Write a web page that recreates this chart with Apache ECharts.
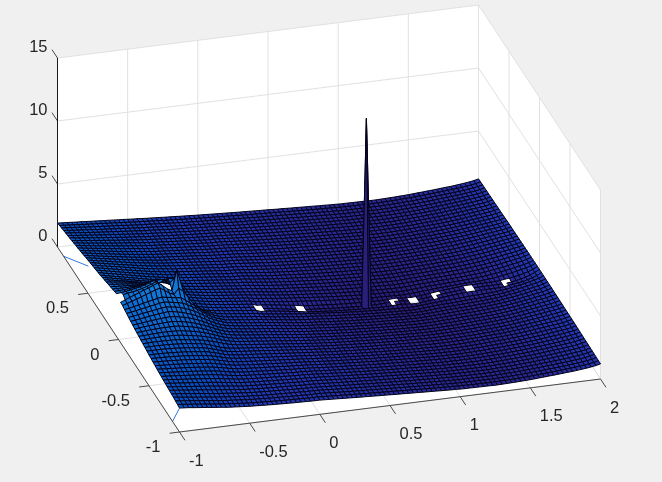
<!DOCTYPE html>
<html><head><meta charset="utf-8">
<style>html,body{margin:0;padding:0;background:#f0f0f0}#c{width:662px;height:482px}</style>
<script src="https://cdn.jsdelivr.net/npm/echarts@6/dist/echarts.min.js"></script>
</head><body><div id="c"></div>
<script>
const xTicks=[-1,-0.5,0,0.5,1,1.5,2];
const yTicks=[-1,-0.5,0,0.5];
const zTicks=[0,5,10,15];
const xTickLabels=['-1','-0.5','0','0.5','1','1.5','2'];
const yTickLabels=['-1','-0.5','0','0.5'];
const zTickLabels=['0','5','10','15'];
// Heights, in hundredths. Mesh step is 1/30.
// zLeft: one row per y from 1 to -1, x from -1 to -1/30.
const zLeft=[
[190,187,185,182,179,177,174,171,169,166,163,161,158,155,153,150,147,145,142,139,137,134,132,129,127,125,122,120,118,115],
[195,192,189,186,183,180,177,174,172,169,166,163,160,157,154,151,148,145,143,140,137,135,132,129,127,125,122,120,118,116],
[200,196,193,190,187,183,180,177,174,171,168,165,162,159,155,152,149,146,144,141,138,135,133,130,127,125,122,120,118,116],
[204,200,197,193,190,186,183,179,176,173,170,167,164,160,157,153,150,147,145,142,139,136,134,131,128,126,123,121,119,116],
[209,205,201,197,193,190,186,182,179,175,172,169,165,162,158,155,151,148,146,143,140,137,134,132,129,126,124,121,119,117],
[213,209,205,201,197,193,189,185,181,178,174,171,167,163,159,156,152,149,147,144,141,138,135,133,130,127,124,122,119,117],
[218,214,209,205,200,196,192,188,184,180,176,172,168,164,161,157,153,150,148,145,142,139,136,133,130,128,125,122,120,118],
[222,218,213,208,204,200,195,191,187,182,178,174,170,166,162,158,155,152,149,146,143,140,137,134,131,128,125,123,120,118],
[227,222,217,212,208,203,198,193,189,184,180,176,172,168,163,159,156,153,150,147,144,141,138,135,132,129,126,123,120,118],
[232,227,221,216,211,206,201,196,191,186,182,178,173,169,165,160,157,154,151,148,145,142,139,136,133,130,127,124,121,118],
[236,231,225,220,215,210,204,199,194,189,184,180,175,171,166,162,158,155,152,149,146,143,139,136,133,130,127,124,121,118],
[241,235,229,224,219,213,207,202,196,191,186,181,177,172,168,163,159,156,153,150,147,144,140,137,134,131,127,124,121,118],
[246,240,234,228,222,216,210,204,199,194,188,183,178,174,169,165,161,157,154,151,148,145,141,138,134,131,128,125,122,119],
[251,245,239,232,226,220,214,208,202,196,190,185,180,175,171,166,162,158,155,152,149,146,142,139,135,132,128,125,122,119],
[257,250,244,237,231,224,218,211,205,199,193,188,182,177,172,167,163,159,156,153,150,146,142,139,135,132,129,125,122,119],
[262,255,248,241,235,228,221,215,208,202,195,190,184,179,174,168,164,160,157,154,151,147,143,140,136,133,129,126,122,119],
[267,260,253,246,239,232,225,218,211,205,198,192,186,180,175,170,166,162,158,155,152,148,144,140,136,133,129,126,122,119],
[272,265,257,250,243,236,229,222,215,208,201,194,188,182,177,172,168,163,159,156,152,148,144,141,137,133,129,126,122,119],
[276,269,261,254,247,239,232,225,218,211,204,197,190,184,179,173,169,164,160,156,153,149,145,141,137,133,130,126,122,119],
[281,273,266,258,251,243,236,228,221,214,206,199,193,187,181,175,170,165,161,157,153,149,145,142,138,134,130,126,122,119],
[286,278,270,262,255,247,240,232,224,217,209,202,195,189,183,177,171,166,162,158,154,150,146,142,138,134,130,126,122,119],
[290,282,274,266,259,251,244,236,228,220,212,205,198,192,185,179,173,168,163,159,155,151,146,142,138,134,130,126,122,119],
[297,289,281,273,266,258,250,242,234,226,218,210,203,195,188,181,175,170,165,160,155,151,147,143,139,135,130,127,123,119],
[303,296,289,282,275,268,260,252,244,235,245,255,245,220,200,184,178,172,166,161,156,152,147,143,139,135,131,127,123,119],
[309,304,299,294,289,283,277,270,265,262,265,280,270,245,215,192,180,173,167,162,157,152,148,143,139,135,131,127,123,119],
[315,311,307,303,299,295,290,285,282,282,288,300,295,262,228,198,182,175,168,163,158,153,148,144,140,135,131,127,123,119],
[321,318,315,313,311,309,307,305,305,308,315,325,320,275,235,202,185,177,170,164,158,153,149,144,140,136,132,128,124,120],
[327,326,325,325,325,326,327,330,335,342,348,350,345,290,240,205,188,179,171,165,159,154,149,145,140,136,132,128,124,120],
[333,334,336,339,343,348,355,365,380,378,380,375,370,300,240,207,190,180,172,165,160,155,150,145,141,137,132,128,124,120],
[339,343,348,354,361,369,379,392,405,380,395,410,400,320,250,210,192,181,173,166,160,155,150,145,141,137,132,128,124,120],
[345,352,358,364,370,380,392,405,420,395,400,400,430,360,280,215,192,181,173,166,160,155,150,145,141,137,132,128,124,120],
[320,334,349,363,378,392,406,421,435,410,380,360,520,400,320,260,205,184,174,166,160,155,150,145,141,137,132,128,124,120],
[318,330,342,355,368,382,395,408,420,395,370,355,400,370,320,270,232,208,188,174,163,155,150,145,141,137,132,128,124,120],
[310,317,325,333,342,350,358,366,372,366,360,352,350,325,298,270,242,215,195,178,165,155,150,145,141,137,132,128,124,120],
[304,310,317,324,331,338,345,352,357,352,345,338,330,312,292,270,245,220,198,180,168,156,151,146,141,137,133,129,125,121],
[297,303,309,315,321,327,332,338,343,338,332,325,312,298,282,262,240,218,198,182,170,157,152,147,142,138,133,129,125,121],
[290,295,301,306,312,317,322,326,330,326,318,310,298,285,270,252,232,212,194,178,167,158,152,147,142,138,134,130,126,122],
[285,289,293,298,302,306,309,312,314,310,303,296,286,274,260,244,226,208,190,176,166,158,153,148,143,139,134,130,126,122],
[279,283,287,290,293,296,298,300,300,297,290,283,274,263,250,236,220,204,188,175,165,158,153,148,143,139,135,131,127,123],
[274,277,280,283,285,286,287,287,287,284,277,271,263,253,241,228,214,199,185,173,164,157,152,148,143,139,135,131,127,123],
[269,271,273,275,276,277,277,276,275,272,265,259,252,243,233,221,208,194,181,170,162,156,152,147,143,139,135,131,127,123],
[264,266,268,269,270,270,269,268,265,261,254,249,242,234,225,214,202,189,177,168,160,155,151,147,143,139,134,130,127,123],
[260,261,262,262,262,261,260,258,255,250,244,239,233,226,217,207,196,184,173,165,158,154,150,146,142,138,134,130,126,122],
[255,256,256,256,255,254,252,249,246,243,238,233,228,220,209,196,182,172,165,160,156,152,148,145,141,137,133,130,126,122],
[250,250,250,250,249,247,245,242,238,235,230,225,220,212,202,191,178,169,163,158,154,151,147,144,140,137,133,129,126,122],
[244,244,243,243,241,239,237,234,231,227,223,218,214,206,197,186,174,166,160,156,152,149,146,143,139,136,132,129,125,122],
[240,239,238,237,235,233,231,228,225,221,217,212,207,200,191,181,171,163,158,154,150,147,144,141,138,134,131,128,125,121],
[236,235,233,232,230,227,225,222,218,215,210,206,201,194,185,177,167,160,155,151,148,145,142,139,136,133,130,127,124,121],
[232,230,228,226,224,221,218,215,212,208,204,200,195,188,180,171,163,157,153,149,146,143,140,137,135,132,129,126,123,120],
[228,226,224,221,218,216,213,210,206,203,198,194,189,182,175,167,159,154,150,147,144,141,138,136,133,130,128,125,122,119],
[224,222,219,216,213,210,207,204,200,197,192,188,183,177,170,162,156,151,147,144,142,139,136,134,131,129,126,124,121,119],
[221,218,215,212,208,205,202,198,195,191,187,183,178,171,165,158,152,148,145,142,140,137,135,132,130,128,125,123,120,118],
[217,214,211,207,204,200,197,193,189,186,181,177,172,166,160,154,149,145,142,140,137,135,133,131,128,126,124,122,120,118],
[214,211,207,203,199,195,192,188,184,180,176,171,166,161,156,151,146,143,140,137,135,133,131,129,127,125,123,121,119,117],
[211,207,203,199,195,191,187,183,179,175,170,166,161,157,152,147,143,140,138,135,133,131,129,127,125,123,122,120,118,116],
[208,204,200,196,191,187,183,179,175,170,165,161,157,153,149,144,141,138,136,133,131,129,127,125,124,122,120,119,117,115],
[205,201,197,192,188,183,179,175,170,165,161,157,153,149,146,142,139,136,133,131,129,127,126,124,122,121,119,118,116,115],
[202,198,193,189,184,179,175,171,166,161,157,153,150,146,143,139,136,134,131,129,127,125,124,122,121,119,118,117,115,114],
[198,194,190,185,181,176,172,167,163,158,154,150,147,144,140,137,134,132,130,128,126,124,123,121,120,118,117,116,114,113],
[194,190,186,182,178,173,169,164,160,155,151,148,145,142,138,135,133,131,129,127,125,123,122,120,119,118,116,115,114,113],
[190,187,184,179,175,171,167,162,158,154,149,146,143,140,137,134,132,130,128,126,124,123,121,120,118,117,116,115,114,113]];
// zRight: one row per |y| from 1 to 0, x from 0 to 2 (the picture reads the same on both sides of y=0 here).
const zRight=[
[113,111,109,107,105,103,101,99,97,95,94,92,90,88,87,85,83,81,80,78,76,75,73,71,70,68,66,65,63,62,60,59,59,58,58,57,57,56,56,57,58,59,60,62,63,65,67,70,72,75,77,80,83,86,88,92,96,100,105,111,120],
[113,111,109,107,105,103,101,99,97,95,93,91,90,88,86,84,83,81,79,77,76,74,72,71,69,67,66,64,63,61,59,59,58,58,57,57,56,56,56,57,58,59,60,62,63,65,67,70,72,75,77,80,83,86,89,92,96,100,105,111,121],
[114,112,110,108,106,103,101,99,97,95,93,91,89,87,86,84,82,80,79,77,75,73,71,70,68,66,65,63,62,60,58,58,57,57,56,56,56,55,55,56,57,59,60,62,63,65,67,70,72,75,78,80,83,86,89,93,96,101,106,112,122],
[114,112,110,108,106,103,101,99,97,95,93,91,89,87,85,83,81,80,78,76,74,72,71,69,67,66,64,62,61,59,58,57,57,56,56,55,55,55,55,56,57,58,60,61,63,65,67,70,72,75,78,81,84,87,90,93,97,101,106,113,122],
[115,113,111,108,106,104,101,99,97,95,93,91,88,86,84,82,81,79,77,75,73,71,70,68,67,65,63,61,60,59,57,56,56,55,55,55,54,54,55,56,57,58,59,61,63,65,67,69,72,75,78,81,84,87,90,94,98,102,107,114,123],
[115,113,111,109,106,104,101,99,97,95,92,90,88,86,84,82,80,78,76,75,73,71,69,67,66,64,62,61,59,58,56,56,55,55,54,54,54,54,54,55,57,58,59,61,63,65,67,69,72,75,78,81,84,88,91,95,99,103,108,114,123],
[116,114,112,109,107,104,102,99,97,95,92,90,88,85,83,82,80,78,76,74,72,70,68,67,65,63,62,60,58,57,56,55,55,54,54,53,53,53,54,55,56,58,59,61,63,65,67,69,72,75,78,81,85,88,92,95,99,104,109,115,124],
[117,114,112,110,107,104,102,99,97,94,92,90,87,85,83,81,79,77,75,73,71,70,68,66,64,62,61,59,58,56,55,54,54,53,53,53,52,53,53,54,56,57,59,61,63,65,67,69,72,75,78,82,85,89,92,96,100,104,109,116,125],
[118,115,113,110,107,104,102,99,96,94,91,89,87,84,82,80,78,76,74,72,70,69,67,65,63,62,60,58,57,55,54,53,53,52,52,52,52,52,53,54,55,57,59,61,63,65,67,69,72,75,78,82,85,89,93,97,101,105,110,117,125],
[118,115,113,110,107,104,101,98,96,93,91,88,86,84,81,79,77,75,73,71,69,68,66,64,62,61,59,57,56,54,53,52,52,51,51,51,51,52,53,54,55,57,58,60,63,65,67,69,72,75,78,82,85,89,93,97,101,106,111,117,126],
[118,115,113,110,107,103,100,98,95,93,90,88,85,83,81,78,76,74,72,71,69,67,65,63,62,60,58,57,55,54,52,51,51,50,50,50,50,51,52,53,55,56,58,60,62,65,67,69,72,75,78,82,86,90,94,98,102,106,111,118,127],
[118,115,113,110,106,103,100,97,94,92,90,87,85,82,80,78,75,73,72,70,68,66,64,62,61,59,57,56,54,53,51,50,50,49,49,49,50,50,52,53,54,56,58,60,62,64,67,69,72,75,78,82,86,90,94,98,102,107,112,118,127],
[118,115,113,109,106,103,99,96,93,91,88,86,84,81,79,76,74,72,70,68,66,64,63,61,59,58,56,55,53,52,50,49,49,48,48,48,49,50,51,53,54,56,58,60,62,64,67,69,72,75,79,83,86,90,94,99,103,107,112,119,128],
[118,115,112,109,105,102,99,96,93,90,87,85,82,80,77,75,73,71,69,67,65,63,61,60,58,56,55,53,52,51,49,48,48,48,48,48,48,49,51,52,54,56,58,60,62,64,67,69,72,75,79,83,86,91,95,99,103,108,113,119,129],
[118,115,112,108,105,102,98,95,92,89,86,84,81,79,76,74,72,70,68,66,64,62,60,59,57,55,54,52,51,50,48,47,47,47,47,47,48,49,50,52,54,56,58,60,62,64,67,69,72,75,79,83,87,91,95,100,104,108,113,120,130],
[118,115,112,108,105,101,98,94,91,88,85,83,80,78,75,73,71,69,67,65,63,61,59,58,56,54,53,51,50,49,47,47,47,46,46,47,48,49,50,52,53,55,57,59,61,63,66,69,72,75,79,83,87,91,96,100,105,109,114,120,130],
[118,115,111,108,104,100,97,93,90,87,84,82,79,76,74,72,69,67,65,64,62,60,58,56,55,53,52,50,49,48,46,46,45,45,45,46,47,48,49,51,52,54,56,58,60,63,65,68,71,74,78,82,87,91,96,101,105,110,115,121,131],
[118,114,111,107,103,100,96,92,89,86,83,80,78,75,73,70,68,66,64,62,60,58,56,55,53,52,50,49,48,47,45,44,44,44,44,45,46,47,48,50,51,53,55,57,59,62,64,67,70,74,78,82,86,91,96,101,106,110,116,122,131],
[118,114,110,106,102,99,95,91,88,85,82,79,76,74,71,69,67,65,62,60,58,57,55,53,52,50,49,47,46,45,44,43,43,43,43,44,45,46,47,49,50,52,54,56,58,61,63,66,69,73,77,81,86,91,96,101,106,111,116,122,131],
[118,114,110,106,102,98,94,90,87,84,81,78,75,72,70,67,65,63,60,59,57,55,53,51,50,48,47,45,44,43,42,41,41,41,42,43,44,45,46,48,49,51,53,55,57,60,62,65,68,72,76,80,85,90,95,100,106,111,116,122,132],
[118,114,110,105,101,97,93,89,86,83,80,77,74,71,68,66,63,61,59,57,55,53,51,49,48,46,45,43,42,41,40,39,39,39,40,41,42,43,45,46,48,50,52,54,56,58,61,64,67,71,75,79,84,89,95,100,105,111,116,123,132],
[118,114,109,105,100,96,92,88,85,81,78,75,72,69,67,64,62,59,57,55,53,51,49,47,46,44,43,41,40,38,37,37,37,38,39,40,41,42,44,45,47,49,51,52,54,57,59,62,66,70,74,78,83,88,94,99,105,110,116,123,132],
[118,113,109,104,100,95,91,87,84,80,77,74,71,68,65,62,60,57,55,53,51,49,47,45,44,42,41,39,38,36,35,35,35,36,37,38,39,41,42,44,46,47,49,51,53,55,58,61,64,68,72,76,81,87,93,98,104,110,116,123,133],
[118,113,108,103,99,94,90,86,82,79,76,73,69,66,63,60,58,55,53,51,48,46,45,43,42,40,39,37,36,34,33,33,33,34,35,36,37,39,41,43,44,46,48,50,52,54,56,59,62,66,70,75,80,85,91,97,103,109,115,123,133],
[117,112,107,102,97,93,88,84,81,78,75,71,68,65,62,59,56,53,51,49,46,44,42,41,39,38,36,35,33,32,31,30,30,31,32,34,36,38,39,41,43,45,46,48,50,52,54,57,60,64,68,73,78,83,89,96,102,108,114,123,134],
[116,111,106,101,96,91,87,83,79,76,73,70,66,63,60,57,54,51,48,46,44,42,40,38,36,35,33,32,31,29,28,27,27,28,30,32,34,36,38,40,41,43,44,46,48,50,52,55,58,61,66,71,76,81,87,94,100,107,113,122,134],
[114,110,105,100,95,90,86,82,78,75,72,68,65,61,58,55,52,49,46,44,42,39,37,35,33,32,30,29,27,26,25,24,24,25,27,29,32,34,36,37,39,41,42,44,46,48,50,53,55,58,62,68,73,78,84,91,98,105,112,121,134],
[112,108,103,99,94,89,85,81,77,74,71,67,63,60,57,53,50,47,44,41,39,36,34,32,30,28,27,25,24,23,21,20,20,22,24,27,29,32,34,35,37,39,41,43,45,46,48,50,53,56,59,64,69,75,81,88,95,103,110,120,134],
[110,106,102,97,92,87,83,79,75,71,68,64,60,57,54,51,47,44,41,38,35,33,31,29,27,25,23,22,21,20,18,17,17,19,21,24,27,30,33,35,37,39,41,43,45,47,48,50,51,53,56,60,65,71,77,84,92,100,108,118,135],
[107,104,100,95,90,85,79,74,69,63,56,52,49,46,43,40,37,34,32,30,28,26,25,23,22,21,20,19,21,23,24,19,17,15,17,20,24,28,33,37,41,44,47,50,53,56,55,55,56,56,56,57,60,66,70,76,82,92,102,116,135],
[105,102,97,92,86,80,73,67,60,52,50,47,45,42,39,36,33,30,28,26,24,22,20,18,18,19,20,22,24,27,24,20,17,15,17,20,24,28,33,37,40,43,46,49,52,55,55,55,56,56,56,57,58,60,64,70,78,88,100,116,135]];
// The one tall narrow point of the mesh: x, y, height
const spikePoints=[[23/30,0,1506]];
// Points without a value (each opens four faces), x, y
const gapPoints=[[-1,0],[-2/3,0],[0,0],[0.3,0],[1.1,0],[1.5,0]];
// Single absent faces: x at left, y at back
const gapFaces=[[28/30,1/30],[29/30,1/30],[28/30,0],[37/30,1/30],[38/30,1/30],[37/30,0],[52/30,1/30],[53/30,1/30],[52/30,0]];
// Two stray blue segments: x0,y0,z0,x1,y1,z1
const strayLines=[[-1,0.9,0,-0.88,0.77,0],[-1,-0.886,0,-1,-1,1.9]];

const xMin=-1,xMax=2,yMin=-1,yMax=1,zMin=0,zMax=15,stepsPerUnit=30;
const zRows=zLeft.map((r,j)=>r.concat(zRight[Math.min(j,zLeft.length-1-j)]));
const xIndex=x=>Math.round((x-xMin)*stepsPerUnit),yIndex=y=>Math.round((yMax-y)*stepsPerUnit);
spikePoints.forEach(s=>{zRows[yIndex(s[1])][xIndex(s[0])]=s[2];});
const P0=[179.5,432],PX=[421,-53],PY=[-122,-185],PZ=-189;
function project(x,y,z){
  const u=(x-xMin)/(xMax-xMin),v=(y-yMin)/(yMax-yMin),w=(z-zMin)/(zMax-zMin);
  return [P0[0]+u*PX[0]+v*PY[0],P0[1]+u*PX[1]+v*PY[1]+w*PZ];
}
const stops=[[0,45,25,110],[0.5,42,38,140],[1.2,35,55,175],[1.9,8,80,190],[3,12,105,205],[5,25,140,222]];
function colorOf(z){
  for(let k=1;k<stops.length;k++){
    if(z<=stops[k][0]){const a=stops[k-1],b=stops[k],t=Math.max(0,(z-a[0])/(b[0]-a[0]));
      return `rgb(${a[1]+t*(b[1]-a[1])|0},${a[2]+t*(b[2]-a[2])|0},${a[3]+t*(b[3]-a[3])|0})`;}
  }
  const l=stops[stops.length-1];return `rgb(${l[1]},${l[2]},${l[3]})`;
}
const gapSet=new Set();
gapPoints.forEach(p=>{const i=xIndex(p[0]),j=yIndex(p[1]);[[i-1,j-1],[i,j-1],[i-1,j],[i,j]].forEach(f=>gapSet.add(f[0]+'_'+f[1]));});
gapFaces.forEach(f=>gapSet.add(xIndex(f[0])+'_'+yIndex(f[1])));
const faces=[];
for(let j=0;j<zRows.length-1;j++){
  for(let i=zRows[j].length-2;i>=0;i--){
    if(!gapSet.has(i+'_'+j))faces.push([i,j]);
  }
}
function pt(api,p){return api.coord(p);}
function faceItem(params,api){
  const i=api.value(0),j=api.value(1);
  const xa=xMin+i/stepsPerUnit,xb=xMin+(i+1)/stepsPerUnit,ya=yMax-j/stepsPerUnit,yb=yMax-(j+1)/stepsPerUnit;
  const a=zRows[j][i]/100,b=zRows[j][i+1]/100,c=zRows[j+1][i+1]/100,d=zRows[j+1][i]/100;
  const s=[a,b,c,d].sort((m,n)=>m-n);
  const pts=[project(xa,ya,a),project(xb,ya,b),project(xb,yb,c),project(xa,yb,d)].map(p=>pt(api,p));
  return {type:'polygon',shape:{points:pts},style:{fill:colorOf((s[1]+s[2])/2),stroke:'#03031a',lineWidth:1}};
}
function segSeries(segs,color,width,z){
  return {type:'custom',coordinateSystem:'cartesian2d',clip:false,silent:true,z:z,animation:false,progressive:0,data:segs,
    renderItem:(p,api)=>{
      const a=pt(api,project(api.value(0),api.value(1),api.value(2))),b=pt(api,project(api.value(3),api.value(4),api.value(5)));
      return {type:'line',shape:{x1:a[0],y1:a[1],x2:b[0],y2:b[1]},style:{stroke:color,lineWidth:width}};
    }};
}
const walls=[
  [xMin,yMax,zMin,xMax,yMax,zMin,xMax,yMax,zMax,xMin,yMax,zMax],
  [xMax,yMin,zMin,xMax,yMax,zMin,xMax,yMax,zMax,xMax,yMin,zMax],
  [xMin,yMin,zMin,xMax,yMin,zMin,xMax,yMax,zMin,xMin,yMax,zMin]];
const gridSegs=[];
xTicks.forEach(x=>{gridSegs.push([x,yMin,zMin,x,yMax,zMin]);gridSegs.push([x,yMax,zMin,x,yMax,zMax]);});
yTicks.forEach(y=>{gridSegs.push([xMin,y,zMin,xMax,y,zMin]);gridSegs.push([xMax,y,zMin,xMax,y,zMax]);});
zTicks.forEach(z=>{gridSegs.push([xMin,yMax,z,xMax,yMax,z]);gridSegs.push([xMax,yMin,z,xMax,yMax,z]);});
const axisSegs=[[xMin,yMin,zMin,xMax,yMin,zMin],[xMin,yMin,zMin,xMin,yMax,zMin]];
xTicks.forEach(x=>axisSegs.push([x,yMin,zMin,x,yMin-0.09,zMin]));
yTicks.forEach(y=>axisSegs.push([xMin,y,zMin,xMin-0.07,y,zMin]));
zTicks.forEach(z=>axisSegs.push([xMin,yMax,z,xMin,yMax+0.09,z]));
const zAxisSegs=[[xMin,yMax,zMin,xMin,yMax,zMax]];
const labelRows=[];
xTicks.forEach((x,k)=>labelRows.push([x,yMin,zMin,0,k]));
yTicks.forEach((y,k)=>labelRows.push([xMin,y,zMin,1,k]));
zTicks.forEach((z,k)=>labelRows.push([xMin,yMax,z,2,k]));
const labelSets=[xTickLabels,yTickLabels,zTickLabels];
const labelStyle=[[9.5,29,'left'],[-19,15.5,'right'],[-10,-10.5,'right']];

const chart=echarts.init(document.getElementById('c'),null,{renderer:'canvas'});
chart.setOption({
  animation:false,backgroundColor:'#f0f0f0',
  grid:{left:0,right:0,top:0,bottom:0},
  xAxis:{type:'value',min:0,max:662,show:false},
  yAxis:{type:'value',min:0,max:482,inverse:true,show:false},
  tooltip:{show:false},
  series:[
    {type:'custom',coordinateSystem:'cartesian2d',clip:false,silent:true,z:1,animation:false,progressive:0,data:walls,
      renderItem:(p,api)=>{
        const pts=[0,3,6,9].map(o=>pt(api,project(api.value(o),api.value(o+1),api.value(o+2))));
        return {type:'polygon',shape:{points:pts},style:{fill:'#ffffff'}};
      }},
    segSeries(gridSegs,'#e1e1e1',1,2),
    segSeries(strayLines,'#2f7ae0',1,3),
    {type:'custom',coordinateSystem:'cartesian2d',clip:false,silent:true,z:4,animation:false,progressive:0,data:faces,renderItem:faceItem},
    segSeries(axisSegs,'#4a4a4a',1,5),
    segSeries(zAxisSegs,'#1a1a1a',1,5),
    {type:'custom',coordinateSystem:'cartesian2d',clip:false,silent:true,z:6,animation:false,progressive:0,data:labelRows,
      renderItem:(p,api)=>{
        const q=pt(api,project(api.value(0),api.value(1),api.value(2))),set=api.value(3),k=api.value(4),st=labelStyle[set];
        return {type:'text',style:{text:labelSets[set][k],x:q[0]+st[0],y:q[1]+st[1],textAlign:st[2],textVerticalAlign:'middle',
          font:'16.5px "Liberation Sans", Arial, sans-serif',fill:'#262626'}};
      }}
  ]
});
</script></body></html>
